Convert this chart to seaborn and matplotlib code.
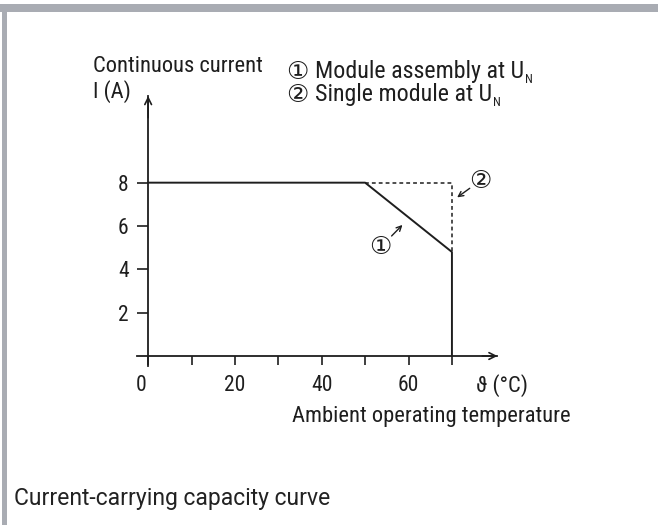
import matplotlib
matplotlib.use("Agg")
import matplotlib.pyplot as plt
import matplotlib.transforms as mtransforms
from matplotlib.patches import Rectangle
import seaborn as sns

# Derating curve data
temp_assembly = [0, 50, 70, 70]
current_assembly = [8, 8, 4.8, 0]
temp_single = [50, 70, 70]
current_single = [8, 8, 4.8]

x_major = [0, 20, 40, 60]
x_minor = [10, 30, 50, 70]
y_ticks = [2, 4, 6, 8]

notes = ["Module assembly at U", "Single module at U"]
marks = ["①", "②"]

sns.set_style("white")
plt.rcParams["font.family"] = ["Roboto Condensed", "Roboto", "DejaVu Sans"]

INK = "#1e1e1e"
FS = 16.2
CIRC = 18
W, H = 658, 525
fig = plt.figure(figsize=(W / 100, H / 100), dpi=100)
ax = fig.add_axes([137.3 / W, (H - 365.75) / H, 360.2 / W, 269.75 / H])
ax.set_facecolor("none")

sns.lineplot(x=temp_assembly, y=current_assembly, sort=False, estimator=None,
             color=INK, lw=1.4, ax=ax)
sns.lineplot(x=temp_single, y=current_single, sort=False, estimator=None,
             color=INK, lw=1.1, ax=ax)
ax.lines[-1].set_dashes([2.5, 2.0])

ax.set_xlim(-2.5, 80.5)
ax.set_ylim(-0.45, 12)

for s in ("top", "right"):
    ax.spines[s].set_visible(False)
ax.spines["left"].set_position(("data", 0))
ax.spines["bottom"].set_position(("data", 0))
for s in ("left", "bottom"):
    ax.spines[s].set_color(INK)
    ax.spines[s].set_linewidth(1.3)

ax.set_xticks(x_major)
ax.set_xticks(x_minor, minor=True)
ax.set_yticks(y_ticks)
ax.tick_params(axis="x", which="both", bottom=True, direction="out", length=6.5,
               width=1.2, color=INK, labelsize=15.5, labelcolor=INK, pad=7)
ax.tick_params(axis="y", left=True, direction="out", length=8, width=1.2,
               color=INK, labelsize=15.5, labelcolor=INK, pad=6)
# "0" sits a bit left of its tick in the original
lbl0 = ax.get_xticklabels()[0]
lbl0.set_transform(lbl0.get_transform() +
                   mtransforms.ScaledTranslation(-7 / 100, 0, fig.dpi_scale_trans))

# axis arrowheads
ax.annotate("", xy=(80.5, 0), xytext=(77, 0),
            arrowprops=dict(arrowstyle="->", lw=1.2, color=INK,
                            shrinkA=0, shrinkB=0, mutation_scale=12))
ax.annotate("", xy=(0, 12), xytext=(0, 11),
            arrowprops=dict(arrowstyle="->", lw=1.2, color=INK,
                            shrinkA=0, shrinkB=0, mutation_scale=12))

# axis texts
ax.text(81.6, -1.38, "ϑ (°C)", ha="center", va="center", fontsize=FS,
        color=INK, clip_on=False)
ax.text(65.3, -2.77, "Ambient operating temperature", ha="center", va="center",
        fontsize=FS, color=INK, clip_on=False)
ax.text(-12.7, 13.35, "Continuous current", ha="left", va="center",
        fontsize=FS, color=INK, clip_on=False)
ax.text(-12.7, 12.2, "I (A)", ha="left", va="center",
        fontsize=FS, color=INK, clip_on=False)

# legend-like notes: circled number, text, subscript N
for i, (m, note) in enumerate(zip(marks, notes)):
    yc = (H - (71.7 + 23.3 * i)) / H
    fig.text(297 / W, yc, m, ha="center", va="center", fontsize=CIRC,
             color=INK, family="DejaVu Sans")
    t = fig.text(315 / W, yc, note, ha="left", va="center", fontsize=17.3,
                 color=INK)
    ax.annotate("N", xy=(1, 0), xycoords=t, xytext=(0.6, 0.2),
                textcoords="offset points", ha="left", va="baseline",
                fontsize=9, color=INK, annotation_clip=False)

# curve callouts
ax.text(76.6, 8.09, "②", ha="center", va="center", fontsize=CIRC, color=INK,
        family="DejaVu Sans")
ax.annotate("", xy=(71.2, 7.32), xytext=(74.1, 7.74),
            arrowprops=dict(arrowstyle="->", lw=1.0, color=INK,
                            shrinkA=0, shrinkB=0, mutation_scale=9))
ax.text(53.4, 5.04, "①", ha="center", va="center", fontsize=CIRC, color=INK,
        family="DejaVu Sans")
ax.annotate("", xy=(58.6, 6.05), xytext=(56.1, 5.54),
            arrowprops=dict(arrowstyle="->", lw=1.0, color=INK,
                            shrinkA=0, shrinkB=0, mutation_scale=9))

# page frame and caption
fig.add_artist(Rectangle((0, (H - 12) / H), 1, 8 / H, transform=fig.transFigure,
                         color="#a9acb3", lw=0))
fig.add_artist(Rectangle((2.3 / W, 0), 4.2 / W, (H - 4) / H,
                         transform=fig.transFigure, color="#a9acb3", lw=0))
fig.text(14 / W, (H - 498) / H, "Current-carrying capacity curve", ha="left",
         va="center", fontsize=16.5, color="#222222",
         family=["Roboto", "DejaVu Sans"])

fig.savefig("out.png", dpi=100)
